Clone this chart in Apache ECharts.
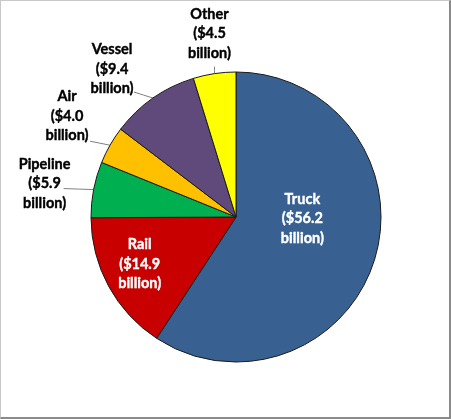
<!DOCTYPE html>
<html>
<head>
<meta charset="utf-8">
<script src="https://cdn.jsdelivr.net/npm/echarts@6/dist/echarts.min.js"></script>
<style>
  html, body { margin: 0; padding: 0; background: #fff; }
  #frame { position: absolute; left: 0; top: 0; width: 451px; height: 419px; box-sizing: border-box;
           border-left: 1px solid #c8c8c8; border-top: 1px solid #c8c8c8;
           border-right: 2px solid #8a8a8a; border-bottom: 2px solid #8a8a8a; }
  #chart { position: absolute; left: 0; top: 0; width: 451px; height: 419px; }
</style>
</head>
<body>
<div id="frame"></div>
<div id="chart"></div>
<script>
const categories = ['Truck', 'Rail', 'Pipeline', 'Air', 'Vessel', 'Other'];
const values = [56.2, 14.9, 5.9, 4.0, 9.4, 4.5];
const colors = ['#386192', '#C80000', '#00B050', '#FFC000', '#604A7B', '#FFFF00'];
const insideLabels = ['Truck', 'Rail'];

// label placement tweaks (relative offsets, px)
const tweaks = {
  Truck: { dx: -6, dy: -20 },
  Rail: { dx: -30, dy: 11 },
  Pipeline: { line: [-30, -1], text: [-49, -6] },
  Air: { line: [-20, -4], text: [-43, -29] },
  Vessel: { line: [-19, -6], text: [-41, -29] },
  Other: { line: [0, -7], text: [-5, -40] }
};

const chart = echarts.init(document.getElementById('chart'), null, { renderer: 'canvas' });

const data = categories.map((name, i) => {
  const inside = insideLabels.indexOf(name) >= 0;
  const txt = inside ? '#ffffff' : '#000000';
  return {
    name: name,
    value: values[i],
    itemStyle: { color: colors[i] },
    label: inside
      ? { position: 'inside', color: txt, textBorderColor: txt, textBorderWidth: 0.4 }
      : { position: 'outside', color: txt, textBorderColor: txt, textBorderWidth: 0.4 },
    labelLine: { show: !inside }
  };
});

chart.setOption({
  animation: false,
  backgroundColor: 'transparent',
  series: [{
    type: 'pie',
    center: [236, 217],
    radius: [0, 145],
    startAngle: 90,
    clockwise: true,
    avoidLabelOverlap: false,
    data: data,
    itemStyle: { borderColor: '#1a1a1a', borderWidth: 1 },
    label: {
      fontFamily: 'Lato',
      fontWeight: 'bold',
      fontSize: 14.5,
      lineHeight: 19.5,
      align: 'center',
      formatter: function (p) {
        return p.name + '\n($' + p.value.toFixed(1) + '\nbillion)';
      }
    },
    labelLine: {
      lineStyle: { color: '#808080', width: 1 },
      length: 10,
      length2: 10
    },
    labelLayout: function (params) {
      const name = categories[params.dataIndex];
      const t = tweaks[name];
      if (!t) return {};
      if (t.line && params.labelLinePoints) {
        const e = params.labelLinePoints[0];
        const end = [e[0] + t.line[0], e[1] + t.line[1]];
        const mid = [(e[0] + end[0]) / 2, (e[1] + end[1]) / 2];
        return {
          x: e[0] + t.text[0],
          y: e[1] + t.text[1],
          align: 'center',
          verticalAlign: 'middle',
          labelLinePoints: [e, mid, end]
        };
      }
      return { dx: t.dx, dy: t.dy };
    }
  }]
});
</script>
</body>
</html>
